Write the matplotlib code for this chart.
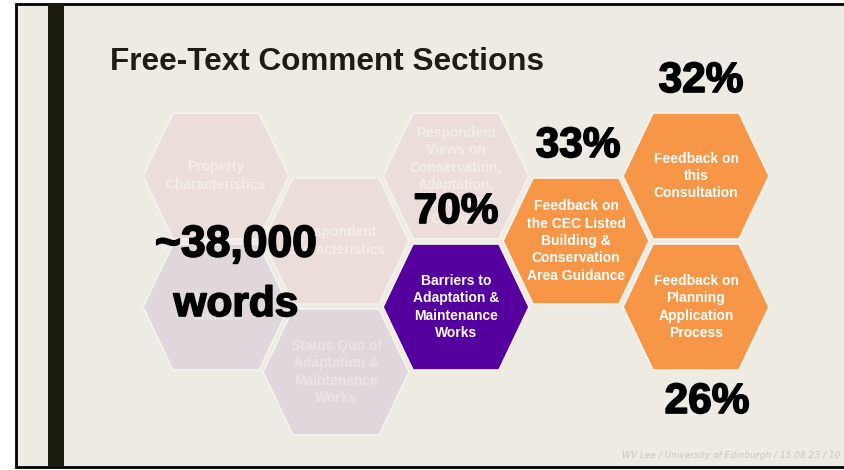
import matplotlib
matplotlib.use("Agg")
import matplotlib.pyplot as plt
from matplotlib.patches import Polygon, Rectangle
import matplotlib.patheffects as pe

# ---- data ----
sections = [
    "Property\nCharacteristics",
    "Issues\nClimate",
    "Respondent\nCharacteristics",
    "Status Quo of\nAdaptation &\nMaintenance\nWorks",
    "Respondent\nViews on\nConservation,\nAdaptation,\n& Climate\nChange",
    "Barriers to\nAdaptation &\nMaintenance\nWorks",
    "Feedback on\nthe CEC Listed\nBuilding &\nConservation\nArea Guidance",
    "Feedback on\nthis\nConsultation",
    "Feedback on\nPlanning\nApplication\nProcess",
]
section_kind = ["context_a", "context_b", "context_a", "context_b", "context_a",
                "barriers", "feedback", "feedback", "feedback"]
share_pct = [None, None, None, None, None, 70, 33, 32, 26]
word_count = 38000

title = "Free-Text Comment Sections"
footer = "WV Lee / University of Edinburgh / 15.08.23 / 10"

# ---- layout / style ----
grid_cells = [(0, 0), (0, 1), (1, 0), (1, 1), (2, 0), (2, 1), (3, 0), (4, 0), (4, 1)]
pct_side = [None, None, None, None, None, "above", "above", "above", "below"]
pct_dx = [0, 0, 0, 0, 0, 0, 2, 5, 11]

fill = {"context_a": "#EBDEDA", "context_b": "#DFD7DC",
        "barriers": "#55009E", "feedback": "#F79646"}
text_col = {"context_a": "#F3ECEA", "context_b": "#EAE4E7",
            "barriers": "white", "feedback": "white"}
bg = "#EEEBE3"
dark = "#1C1C10"

X0, DX = 216, 120
Y0, DY, ODD = 176, 131, 65
HW, HH, INSET = 146, 126, 30


def hex_center(col, row):
    return X0 + col * DX, Y0 + row * DY + (ODD if col % 2 else 0)


def hex_verts(cx, cy):
    l, r = cx - HW / 2, cx + HW / 2
    t, b = cy - HH / 2, cy + HH / 2
    return [(l, cy), (l + INSET, t), (r - INSET, t), (r, cy), (r - INSET, b), (l + INSET, b)]


fig = plt.figure(figsize=(8.45, 4.70), dpi=100, facecolor="white")
ax = fig.add_axes([0, 0, 1, 1])
ax.set_xlim(0, 845)
ax.set_ylim(470, 0)
ax.axis("off")

# slide frame
ax.add_patch(Rectangle((16.5, 3.5), 840, 463.5, facecolor=bg, edgecolor="black", lw=2, zorder=0))
ax.add_patch(Rectangle((48, 4), 16, 462, facecolor=dark, edgecolor="none", zorder=1))

ax.text(110, 62, title, fontsize=22.7, family="Liberation Sans", weight="bold",
        color="#1D1D12", ha="left", va="center")

for label, kind, cell in zip(sections, section_kind, grid_cells):
    cx, cy = hex_center(*cell)
    ax.add_patch(Polygon(hex_verts(cx, cy), closed=True, facecolor=fill[kind],
                         edgecolor="#F6F3EE", lw=1.2, zorder=2))
    ax.text(cx, cy, label, fontsize=10, family="Liberation Sans", weight="bold",
            color=text_col[kind], ha="center", va="center", linespacing=1.3, zorder=3)

big = dict(fontsize=30.5, family="Liberation Sans", weight="bold", color="black",
           ha="center", va="center", zorder=5,
           path_effects=[pe.withStroke(linewidth=1.2, foreground="black")])

for pct, side, dx, cell in zip(share_pct, pct_side, pct_dx, grid_cells):
    if pct is None:
        continue
    cx, cy = hex_center(*cell)
    dy = -95 if side == "above" else 95
    ax.text(cx + dx, cy + dy, f"{pct}%", **big)

ax.text(236, 245, f"~{word_count:,}", fontsize=32, **{k: v for k, v in big.items() if k != "fontsize"})
ax.text(236, 305, "words", **big)

ax.text(840, 456, footer, fontsize=6.5, style="italic", color="#C8C5BE",
        ha="right", va="center")

fig.savefig("out.png", dpi=100, facecolor="white")
